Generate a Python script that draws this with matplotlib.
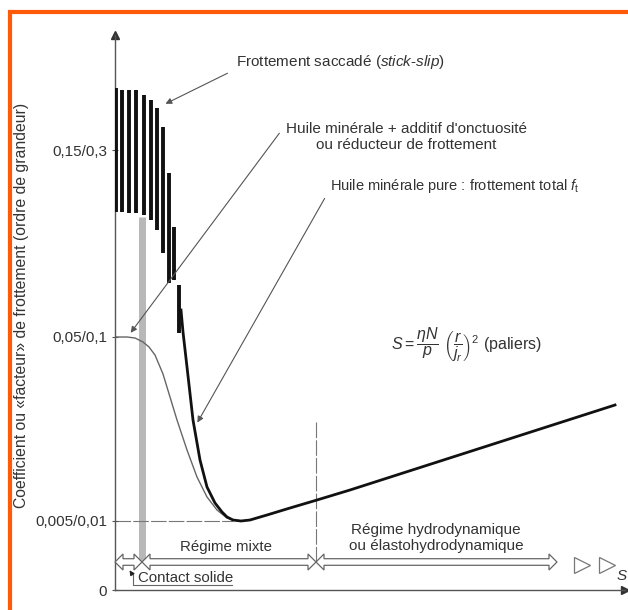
import matplotlib
matplotlib.use("Agg")
import matplotlib.pyplot as plt
import matplotlib.patches as mpatches
import numpy as np

plt.rcParams['font.family'] = ['Liberation Sans', 'DejaVu Sans']
plt.rcParams['mathtext.fontset'] = 'custom'
plt.rcParams['mathtext.rm'] = 'Liberation Sans'
plt.rcParams['mathtext.it'] = 'Liberation Sans:italic'
plt.rcParams['mathtext.bf'] = 'Liberation Sans:bold'

# ---- data (arbitrary units: S on x, friction level on y) ----
ytick_pos = [0, 69, 253, 440]
ytick_labels = ['0', '0,005/0,01', '0,05/0,1', '0,15/0,3']

# stick-slip oscillation bars
stick_x = [1, 7, 14, 21, 29, 36, 42, 48, 54, 59, 64]
stick_top = [502, 500, 500, 500, 495, 490, 482, 463, 417, 363, 305]
stick_bot = [378, 378, 377, 377, 375, 370, 360, 337, 307, 310, 257]

# pure mineral oil (total friction)
pure_x = [66, 68, 72, 78, 85, 92, 100, 107, 112, 118, 126, 135, 152, 175, 202, 235, 500]
pure_y = [280, 258, 223, 170, 130, 103, 87, 78, 73, 70, 69, 70, 75, 82, 90, 100, 185]

# mineral oil + additive
add_x = [0, 12, 20, 28, 34, 40, 48, 55, 62, 72, 82, 92, 102, 112, 122]
add_y = [253, 253, 252, 248, 243, 235, 216, 193, 170, 140, 113, 93, 80, 72, 69]

# regime boundaries (S)
regime_bounds = [0, 27, 201, 442]
regime_names = ['Régime mixte', 'Régime hydrodynamique\nou élastohydrodynamique']

W, H = 628, 610
fig = plt.figure(figsize=(W / 100, H / 100), dpi=100)
fig.patch.set_facecolor('white')

ax = fig.add_axes([115 / W, 20 / H, 510 / W, 555 / H])
ax.set_xlim(0, 510)
ax.set_ylim(0, 555)
ax.set_facecolor('none')
for s in ['top', 'right']:
    ax.spines[s].set_visible(False)
for s in ['left', 'bottom']:
    ax.spines[s].set_color('#555555')
    ax.spines[s].set_linewidth(1.0)
ax.set_xticks([])
ax.set_yticks(ytick_pos)
ax.set_yticklabels(ytick_labels, fontsize=11, color='#333333')
ax.tick_params(axis='y', direction='inout', length=5, width=0.8, color='#555555', pad=3)

# axis arrows
ax.plot([0], [555], marker='^', color='#333333', ms=6, clip_on=False)
ax.plot([510], [0], marker='>', color='#333333', ms=6, clip_on=False)
ax.text(502, 14, 'S', fontsize=11, style='italic', color='#333333', ha='left', va='center',
        clip_on=False)

# grey band (solid contact limit)
ax.plot([regime_bounds[1], regime_bounds[1]], [28, 373], color='#b8b8b8', lw=5,
        solid_capstyle='butt', zorder=1)

# dashed reference lines
ax.plot([0, 118], [69, 69], color='#777777', lw=0.8, ls=(0, (14, 2)), zorder=1)
ax.plot([regime_bounds[2], regime_bounds[2]], [28, 170], color='#777777', lw=0.8,
        ls=(0, (14, 2)), zorder=1)

# curves
ax.plot(add_x, add_y, color='#666666', lw=1.0, zorder=2)
ax.vlines(stick_x, stick_bot, stick_top, color='#111111', lw=2.8, zorder=3)
ax.plot(pure_x, pure_y, color='#111111', lw=2.0, zorder=3, solid_joinstyle='round')

# hollow regime arrows
def hollow_arrow(x0, x1, y, left=True, right=True, sh=3.3, hw=8, hl=8):
    pts = []
    if left:
        pts += [(x0, y), (x0 + hl, y + hw), (x0 + hl, y + sh)]
    else:
        pts += [(x0, y + sh)]
    if right:
        pts += [(x1 - hl, y + sh), (x1 - hl, y + hw), (x1, y), (x1 - hl, y - hw), (x1 - hl, y - sh)]
    else:
        pts += [(x1, y + sh), (x1, y - sh)]
    if left:
        pts += [(x0 + hl, y - sh), (x0 + hl, y - hw)]
    else:
        pts += [(x0, y - sh)]
    poly = mpatches.Polygon(pts, closed=True, facecolor='white', edgecolor='#666666',
                            lw=0.9, zorder=4, clip_on=False)
    ax.add_patch(poly)

yarr = 28
hollow_arrow(regime_bounds[0], regime_bounds[1], yarr)
hollow_arrow(regime_bounds[1], regime_bounds[2], yarr)
hollow_arrow(regime_bounds[2], regime_bounds[3], yarr)
ax.plot([467, 492], [25, 25], ls='none', marker='>', ms=11, mfc='white', mec='#777777',
        mew=0.9, clip_on=False)

# region texts
ax.text((regime_bounds[1] + regime_bounds[2]) / 2 - 3, 43, regime_names[0], fontsize=10.8,
        color='#333333', ha='center', va='center')
ax.text(321, 52, regime_names[1], fontsize=11, color='#333333', ha='center', va='center',
        linespacing=1.2)
ax.text(23, 12, 'Contact solide', fontsize=10.8, color='#333333', ha='left', va='center')
ax.plot([18, 18, 117], [17, 5, 5], color='#666666', lw=0.8, clip_on=False)
ax.annotate('', xy=(13, 22), xytext=(19, 13),
            arrowprops=dict(arrowstyle='-|>', color='#222222', lw=0.8, mutation_scale=7))

# annotations
ax.text(121, 528, 'Frottement saccadé ($\\mathit{stick}$-$\\mathit{slip}$)', fontsize=11,
        color='#333333', ha='left', va='center')
ax.annotate('', xy=(48, 485), xytext=(115, 518),
            arrowprops=dict(arrowstyle='-|>', color='#555555', lw=0.8, mutation_scale=9))

ax.text(291, 453, "Huile minérale + additif d'onctuosité\nou réducteur de frottement",
        fontsize=11, color='#333333', ha='center', va='center', linespacing=1.2)
ax.annotate('', xy=(14, 255), xytext=(166, 459),
            arrowprops=dict(arrowstyle='-|>', color='#555555', lw=0.8, mutation_scale=9))

ax.text(215, 404, 'Huile minérale pure : frottement total $f_{\\mathrm{t}}$', fontsize=10.5,
        color='#333333', ha='left', va='center')
ax.annotate('', xy=(81, 165), xytext=(211, 394),
            arrowprops=dict(arrowstyle='-|>', color='#555555', lw=0.8, mutation_scale=9))

ax.text(351, 245,
        r'$S=\dfrac{\eta N}{p}\ \left(\dfrac{r}{j_r}\right)^2$ (paliers)',
        fontsize=11.5, color='#333333', ha='center', va='center')

# y label
fig.text(22 / W, 1 - 305 / H, 'Coefficient ou «facteur» de frottement (ordre de grandeur)',
         rotation=90, fontsize=11.3, color='#333333', ha='center', va='center')

# orange frame
frame = mpatches.Rectangle((9.5 / W, -0.05), 1.1, 1 - 11.5 / H + 0.05, transform=fig.transFigure,
                           fill=False, edgecolor='#ff5a0a', lw=3, zorder=10)
fig.patches.append(frame)

fig.savefig('out.png', dpi=100, facecolor='white')
